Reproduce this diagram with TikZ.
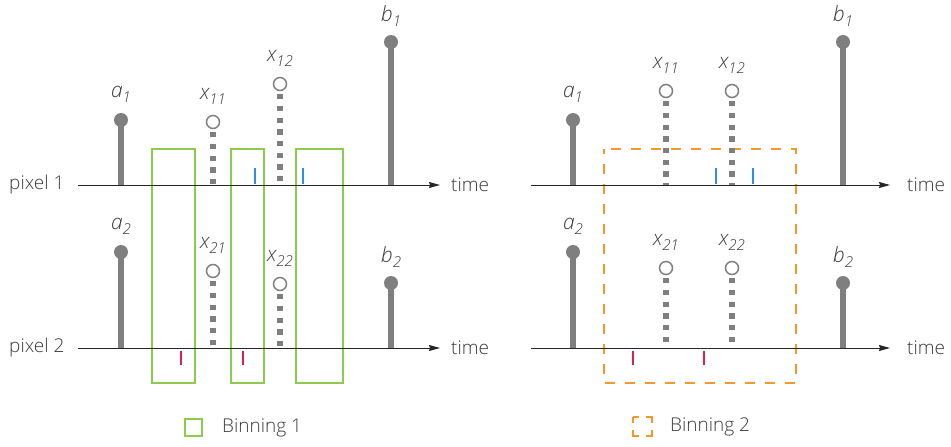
\documentclass[tikz,border=0pt]{standalone}
\usepackage{fontspec}
\setmainfont{Open Sans}[UprightFont={* Light},ItalicFont={* Light Italic}]
\usetikzlibrary{arrows.meta}

\definecolor{stemgray}{HTML}{7F7F7F}
\definecolor{bingreen}{HTML}{8DCB4E}
\definecolor{binorange}{HTML}{F7962B}
\definecolor{tickblue}{HTML}{2F8FE8}
\definecolor{tickred}{HTML}{DC1F4E}
\definecolor{txtgray}{HTML}{3A3A3A}

% italic label with a lowered, slightly smaller index
\newcommand{\idx}[1]{\raisebox{-5pt}{\fontsize{15}{15}\selectfont #1}}

\tikzset{
  axisline/.style={draw=black!85, line width=1pt, -{Stealth[length=11pt,width=6pt,inset=1pt]}},
  solidstem/.style={draw=stemgray, line width=5.5pt},
  dotstem/.style={draw=stemgray, line width=5.8pt, dash pattern=on 5.2pt off 6.5pt},
  ball/.style={circle, fill=stemgray, minimum size=14pt, inner sep=0pt},
  ring/.style={circle, draw=stemgray, line width=1.5pt, fill=white, minimum size=13pt, inner sep=0pt},
  lab/.style={text=txtgray, font=\fontsize{21}{24}\selectfont\itshape, inner sep=0pt},
  txt/.style={text=txtgray, font=\fontsize{19}{22}\selectfont, inner sep=0pt},
  bin1/.style={draw=bingreen, line width=1.8pt},
  bin2/.style={draw=binorange, line width=1.8pt, dash pattern=on 10pt off 10pt, dash phase=5pt},
  btick/.style={draw=tickblue, line width=1.8pt},
  rtick/.style={draw=tickred, line width=1.8pt},
}

\begin{document}
\begin{tikzpicture}[x=1pt,y=-1pt]
\useasboundingbox (0,0) rectangle (951,447);

% binning windows
\draw[bin1] (152,149) rectangle (195,383);
\draw[bin1] (231,149) rectangle (264,383);
\draw[bin1] (296,149) rectangle (343,383);
\draw[bin2] (604,149) rectangle (796,383);

% time axes
\foreach \nm/\xa/\xb/\ya in {l1/78/440/185, l2/78/440/348, r1/531/890/185, r2/531/890/348}{
  \coordinate (\nm-start) at (\xa,\ya);
  \coordinate (\nm-end) at (\xb,\ya);
  \draw[axisline] (\nm-start) -- (\nm-end);
}
\node[txt, anchor=west] (l1name) at (9,185) {pixel 1};
\node[txt, anchor=west] (l2name) at (9,348) {pixel 2};
\node[txt, anchor=west] (l1time) at (451,185) {time};
\node[txt, anchor=west] (l2time) at (451,348) {time};
\node[txt, anchor=west] (r1time) at (907,185) {time};
\node[txt, anchor=west] (r2time) at (907,348) {time};

% boundary samples (solid stems)
\foreach \nm/\px/\py/\ay/\lt/\ls in {
  la1/121/120/185/a/1, lb1/391/42/185/b/1, la2/121/252/348/a/2, lb2/391/283/348/b/2,
  ra1/573/120/185/a/1, rb1/843/42/185/b/1, ra2/573/252/348/a/2, rb2/843/283/348/b/2}{
  \coordinate (\nm-foot) at (\px,\ay);
  \node[ball] (\nm) at (\px,\py) {};
  \draw[solidstem] (\nm-foot) -- (\nm.center);
  \node[lab] (\nm-label) at ([yshift=26pt]\nm.center) {\lt\idx{\ls}};
}

% unknown samples (dotted stems)
\foreach \nm/\px/\py/\ay/\ls in {
  lx11/213/122/185/11, lx12/280/84/185/12, lx21/213/271/348/21, lx22/280/284/348/22,
  rx11/666/91/185/11, rx12/732/91/185/12, rx21/666/268/348/21, rx22/732/268/348/22}{
  \coordinate (\nm-foot) at (\px,\ay);
  \node[ring] (\nm) at (\px,\py) {};
  \draw[dotstem] ([yshift=-3pt]\nm.south) -- (\nm-foot);
  \node[lab] (\nm-label) at ([yshift=26pt]\nm.center) {x\idx{\ls}};
}

% photon events
\foreach \tx in {255,303,716,753}{
  \draw[btick] (\tx,168) -- (\tx,184);
}
\foreach \tx in {181,243,633,704}{
  \draw[rtick] (\tx,351) -- (\tx,365);
}

% legend
\draw[bin1] (185,419) rectangle (202,436);
\node[txt, anchor=west] (leg1) at (222,428) {Binning 1};
\draw[draw=binorange, line width=1.8pt, dash pattern=on 12pt off 7pt, dash phase=6pt] (633,417) rectangle (652,436);
\node[txt, anchor=west] (leg2) at (670,427) {Binning 2};
\end{tikzpicture}
\end{document}
